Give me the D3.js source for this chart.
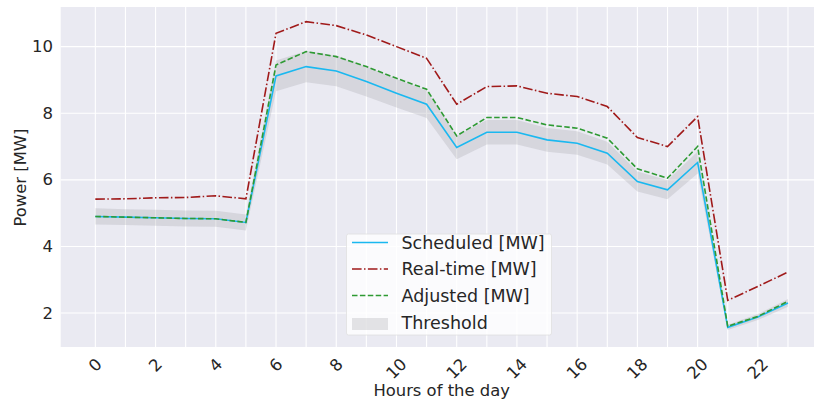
<!DOCTYPE html>
<html><head><meta charset="utf-8">
<script src="https://cdn.jsdelivr.net/npm/d3@7"></script>
<style>body{margin:0;background:#fff;} svg{display:block;font-family:"DejaVu Sans",sans-serif;}</style>
</head><body>
<svg id="c" width="814" height="404"></svg>
<script>
const hours = [0,1,2,3,4,5,6,7,8,9,10,11,12,13,14,15,16,17,18,19,20,21,22,23];
const scheduled = [4.90,4.88,4.86,4.84,4.83,4.72,9.12,9.40,9.27,8.95,8.60,8.27,6.97,7.43,7.43,7.20,7.10,6.80,5.95,5.70,6.52,1.57,1.88,2.30];
const realtime  = [5.42,5.43,5.46,5.47,5.52,5.43,10.40,10.75,10.63,10.35,10.00,9.65,8.27,8.80,8.82,8.60,8.50,8.20,7.27,7.00,7.90,2.38,2.80,3.23];
const adjusted  = [4.90,4.88,4.86,4.84,4.83,4.72,9.45,9.85,9.70,9.40,9.05,8.72,7.32,7.87,7.87,7.65,7.55,7.25,6.33,6.05,7.00,1.60,1.90,2.35];
const thrLow    = [4.66,4.64,4.62,4.60,4.59,4.48,8.66,8.93,8.81,8.50,8.17,7.86,6.62,7.06,7.06,6.84,6.75,6.46,5.65,5.42,6.19,1.49,1.79,2.19];
const thrHigh   = [5.15,5.12,5.10,5.08,5.07,4.96,9.58,9.87,9.73,9.40,9.03,8.68,7.32,7.80,7.80,7.56,7.46,7.14,6.25,5.99,6.85,1.65,1.97,2.42];
const xTickLabels = ["0","2","4","6","8","10","12","14","16","18","20","22"];
const yTicks = [2,4,6,8,10];
const legendLabels = ["Scheduled [MW]","Real-time [MW]","Adjusted [MW]","Threshold"];

const svg = d3.select("#c");
const L = 60.7, R = 822.6, T = 7, B = 347;
const x = d3.scaleLinear().domain([-1.15, 24.15]).range([L, R]);
const y = d3.scaleLinear().domain([0.98, 11.19]).range([B, T]);

svg.append("rect").attr("x", L).attr("y", T).attr("width", R - L).attr("height", B - T).attr("fill", "#eaeaf2");
const g = svg.append("g");
// grid
g.selectAll(".vg").data(hours).join("line")
  .attr("x1", d => x(d)).attr("x2", d => x(d)).attr("y1", T).attr("y2", B)
  .attr("stroke", "#fff").attr("stroke-width", 1.1);
g.selectAll(".hg").data(yTicks).join("line")
  .attr("x1", L).attr("x2", R).attr("y1", d => y(d)).attr("y2", d => y(d))
  .attr("stroke", "#fff").attr("stroke-width", 1.1);

// band
const area = d3.area().x((d, i) => x(hours[i])).y0((d, i) => y(thrLow[i])).y1((d, i) => y(thrHigh[i]));
g.append("path").datum(thrLow).attr("d", area).attr("fill", "#a0a0a8").attr("fill-opacity", 0.28);

const line = arr => d3.line().x((d, i) => x(hours[i])).y(d => y(d))(arr);
const styles = [
  {data: scheduled, color: "#1ab8f0", dash: null},
  {data: realtime, color: "#a01a1a", dash: "9.6,2.4,1.5,2.4"},
  {data: adjusted, color: "#2e9a33", dash: "5.5,2.4"}
];
styles.forEach(s => {
  g.append("path").attr("d", line(s.data)).attr("fill", "none")
    .attr("stroke", s.color).attr("stroke-width", 1.6)
    .attr("stroke-dasharray", s.dash);
});

// y axis labels
svg.selectAll(".yt").data(yTicks).join("text")
  .attr("x", 53).attr("y", d => y(d)).attr("text-anchor", "end")
  .attr("dominant-baseline", "central").attr("font-size", 16.5).attr("fill", "#262626")
  .text(d => d);

// x tick labels, rotated 45
xTickLabels.forEach(lbl => {
  const v = +lbl;
  const t = svg.append("text").attr("font-size", 16.5).attr("fill", "#262626")
    .attr("text-anchor", "middle").attr("dominant-baseline", "central").text(lbl);
  const w = t.node().getComputedTextLength();
  const h = 16.5 * 0.75;
  const cy = 357 + (w + h) * Math.SQRT1_2 / 2;
  t.attr("x", x(v)).attr("y", cy).attr("transform", `rotate(-45,${x(v)},${cy})`);
});

svg.append("text").attr("x", (L + R) / 2).attr("y", 396).attr("text-anchor", "middle")
  .attr("font-size", 16.4).attr("fill", "#262626").text("Hours of the day");
svg.append("text").attr("transform", "translate(20,177.5) rotate(-90)").attr("text-anchor", "middle")
  .attr("dominant-baseline", "central").attr("font-size", 16.4).attr("fill", "#262626").text("Power [MW]");

// legend
const lg = svg.append("g");
lg.append("rect").attr("x", 346.5).attr("y", 234).attr("width", 205).attr("height", 101)
  .attr("fill", "#fff").attr("fill-opacity", 0.8).attr("stroke", "#e0e0e0").attr("stroke-width", 0.8).attr("rx", 2);
const rowsY = [242.5, 269, 295.5, 322.5];
styles.forEach((s, i) => {
  lg.append("line").attr("x1", 352).attr("x2", 388).attr("y1", rowsY[i]).attr("y2", rowsY[i])
    .attr("stroke", s.color).attr("stroke-width", 1.6).attr("stroke-dasharray", s.dash);
});
lg.append("rect").attr("x", 352).attr("y", 318).attr("width", 36).attr("height", 12)
  .attr("fill", "#a0a0a8").attr("fill-opacity", 0.28);
legendLabels.forEach((l, i) => {
  lg.append("text").attr("x", 401.5).attr("y", rowsY[i]).attr("dominant-baseline", "central")
    .attr("font-size", 17.5).attr("fill", "#262626").text(l);
});
</script>
</body></html>
